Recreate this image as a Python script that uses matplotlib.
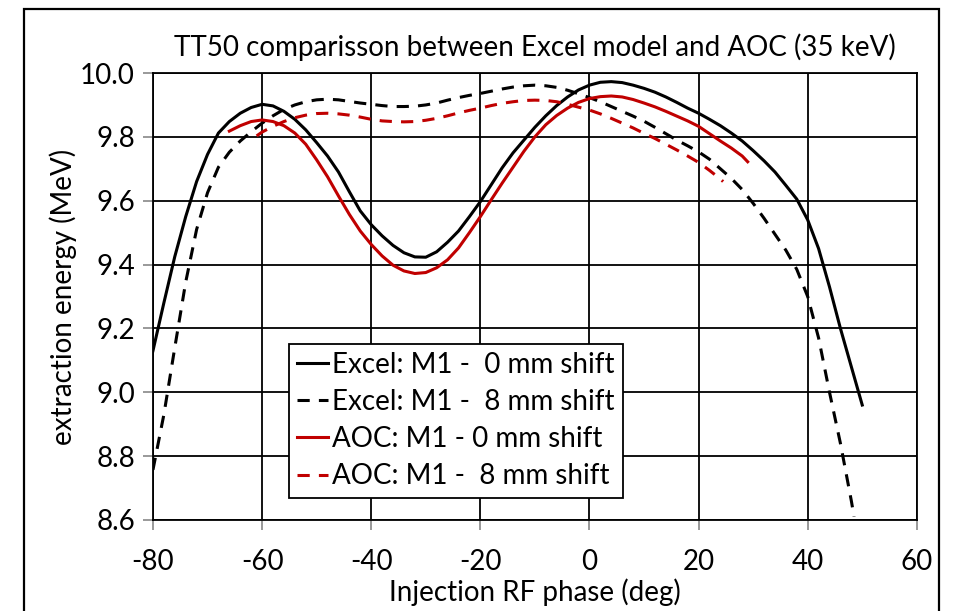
import matplotlib
matplotlib.use("Agg")
import matplotlib.pyplot as plt
from matplotlib.patches import Rectangle

plt.rcParams['font.family'] = ['Lato', 'DejaVu Sans']

# Excel: M1 - 0 mm shift
x_ex0 = [-80, -78, -76, -74, -72, -70, -68, -66, -64, -62, -60, -58, -56, -54, -52, -50,
         -48, -46, -44, -42, -40, -38, -36, -34, -32, -30, -28, -26, -24, -22, -20, -18,
         -16, -14, -12, -10, -8, -6, -4, -2, 0, 2, 4, 6, 8, 10, 12, 14, 16, 18, 20, 22,
         24, 26, 28, 30, 32, 34, 36, 38, 40, 42, 44, 46, 48, 50]
y_ex0 = [9.13, 9.28, 9.425, 9.55, 9.66, 9.745, 9.812, 9.848, 9.874, 9.892, 9.902, 9.897,
         9.880, 9.855, 9.822, 9.782, 9.74, 9.69, 9.628, 9.568, 9.525, 9.49, 9.46, 9.437,
         9.424, 9.423, 9.44, 9.47, 9.505, 9.55, 9.597, 9.65, 9.703, 9.75, 9.79, 9.83,
         9.866, 9.898, 9.925, 9.947, 9.962, 9.971, 9.973, 9.97, 9.962, 9.952, 9.94,
         9.925, 9.908, 9.89, 9.874, 9.855, 9.835, 9.812, 9.787, 9.757, 9.725, 9.69,
         9.648, 9.605, 9.54, 9.45, 9.33, 9.20, 9.08, 8.96]

# Excel: M1 - 8 mm shift
x_ex8 = [-80, -78, -76, -74, -72, -70, -68, -66, -64, -62, -60, -58, -56, -54, -52, -50,
         -48, -46, -44, -42, -40, -38, -36, -34, -32, -30, -28, -26, -24, -22, -20, -18,
         -16, -14, -12, -10, -8, -6, -4, -2, 0, 2, 4, 6, 8, 10, 12, 14, 16, 18, 20, 22,
         24, 26, 28, 30, 32, 34, 36, 38, 40, 42, 44, 46, 48, 48.5]
y_ex8 = [8.757, 8.93, 9.14, 9.345, 9.51, 9.625, 9.705, 9.752, 9.787, 9.816, 9.843, 9.866,
         9.886, 9.90, 9.91, 9.916, 9.918, 9.916, 9.911, 9.906, 9.902, 9.898, 9.895, 9.895,
         9.896, 9.90, 9.906, 9.915, 9.923, 9.93, 9.936, 9.943, 9.95, 9.956, 9.96, 9.962,
         9.96, 9.955, 9.946, 9.935, 9.923, 9.91, 9.895, 9.88, 9.865, 9.849, 9.83, 9.81,
         9.79, 9.772, 9.753, 9.73, 9.70, 9.67, 9.635, 9.592, 9.545, 9.495, 9.445, 9.385,
         9.30, 9.17, 9.00, 8.84, 8.66, 8.61]

# AOC: M1 - 0 mm shift
x_aoc0 = [-66, -64, -62, -60, -58, -56, -54, -52, -50, -48, -46, -44, -42, -40, -38, -36,
          -34, -32, -30, -28, -26, -24, -22, -20, -18, -16, -14, -12, -10, -8, -6, -4,
          -2, 0, 2, 4, 6, 8, 10, 12, 14, 16, 18, 20, 22, 24, 26, 28, 29]
y_aoc0 = [9.818, 9.835, 9.848, 9.853, 9.848, 9.835, 9.812, 9.777, 9.728, 9.675, 9.615,
          9.557, 9.505, 9.463, 9.427, 9.398, 9.38, 9.372, 9.375, 9.39, 9.415, 9.452, 9.50,
          9.55, 9.603, 9.655, 9.705, 9.755, 9.80, 9.838, 9.867, 9.89, 9.908, 9.92, 9.926,
          9.928, 9.925, 9.917, 9.906, 9.894, 9.88, 9.865, 9.85, 9.833, 9.81, 9.787,
          9.765, 9.74, 9.722]

# AOC: M1 - 8 mm shift
x_aoc8 = [-61, -60, -58, -56, -54, -52, -50, -48, -46, -44, -42, -40, -38, -36, -34, -32,
          -30, -28, -26, -24, -22, -20, -18, -16, -14, -12, -10, -8, -6, -4, -2, 0, 2, 4,
          6, 8, 10, 12, 14, 16, 18, 20, 22, 24, 24.5]
y_aoc8 = [9.803, 9.815, 9.833, 9.848, 9.86, 9.868, 9.873, 9.874, 9.872, 9.868, 9.862,
          9.855, 9.85, 9.848, 9.847, 9.848, 9.852, 9.858, 9.866, 9.875, 9.883, 9.89,
          9.898, 9.905, 9.91, 9.914, 9.915, 9.914, 9.91, 9.902, 9.893, 9.884, 9.872,
          9.858, 9.843, 9.828, 9.811, 9.795, 9.777, 9.759, 9.74, 9.72, 9.695, 9.668, 9.66]

labels = ["Excel: M1 -  0 mm shift", "Excel: M1 -  8 mm shift",
          "AOC: M1 - 0 mm shift", "AOC: M1 -  8 mm shift"]
x_ticks = [-80, -60, -40, -20, 0, 20, 40, 60]
y_ticks = [8.6, 8.8, 9.0, 9.2, 9.4, 9.6, 9.8, 10.0]

RED = '#C00000'
FS = 20
fig = plt.figure(figsize=(9.56, 6.11), dpi=100)
ax = fig.add_axes([0.160, 0.149, 0.799, 0.7315])

lw = 2.2
dash = (0, (4, 3))
ax.plot(x_ex0, y_ex0, color='black', lw=lw, label=labels[0])
ax.plot(x_ex8, y_ex8, color='black', lw=lw, ls=dash, label=labels[1])
ax.plot(x_aoc0, y_aoc0, color=RED, lw=lw, label=labels[2])
ax.plot(x_aoc8, y_aoc8, color=RED, lw=lw, ls=dash, label=labels[3])

ax.set_xlim(-80, 60)
ax.set_ylim(8.6, 10.0)
ax.set_xticks(x_ticks)
ax.set_xticklabels([str(v) for v in x_ticks])
ax.set_yticks(y_ticks)
ax.set_yticklabels([f"{v:.1f}" for v in y_ticks])
ax.grid(True, color='black', lw=1.3)
for s in ax.spines.values():
    s.set_color('black')
    s.set_linewidth(1.3)
ax.tick_params(axis='both', direction='out', length=7, width=1.2, color='#888888',
               labelsize=FS)
ax.tick_params(axis='x', pad=14)
ax.tick_params(axis='y', pad=6)

ax.set_title("TT50 comparisson between Excel model and AOC (35 keV)", fontsize=FS, pad=12)
ax.set_xlabel("Injection RF phase (deg)", fontsize=FS, labelpad=2)
ax.set_ylabel("extraction energy (MeV)", fontsize=FS, labelpad=2)

leg = ax.legend(loc='lower left', bbox_to_anchor=(0.178, 0.05), fontsize=FS,
                frameon=True, fancybox=False, edgecolor='black', framealpha=1,
                handlelength=1.1, handletextpad=0.15, borderpad=0.3,
                labelspacing=0.4, borderaxespad=0)
leg.get_frame().set_linewidth(1.3)

fig.patches.append(Rectangle((0.025, -0.1), 0.957, 1.085, transform=fig.transFigure,
                             fill=False, edgecolor='black', lw=1.6))

fig.savefig("out.png", dpi=100)
